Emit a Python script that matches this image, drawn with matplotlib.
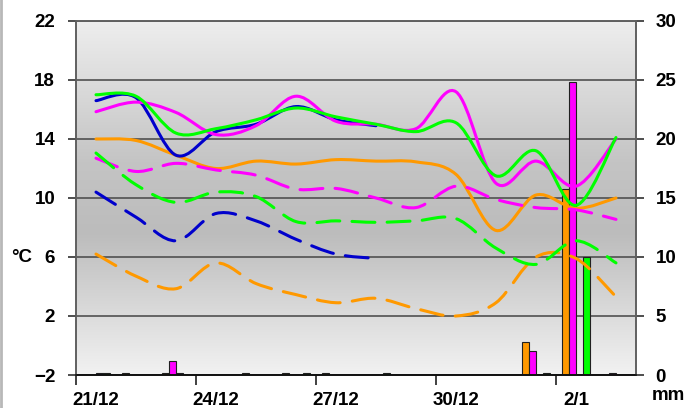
import numpy as np
import matplotlib.pyplot as plt
from matplotlib.path import Path
from matplotlib.patches import PathPatch
from matplotlib.colors import LinearSegmentedColormap

plt.rcParams['font.family'] = ['Liberation Sans', 'DejaVu Sans']
plt.rcParams['font.weight'] = 'bold'

# one value per day, 21/12 .. 3/1
days = np.arange(14) + 0.5
date_labels = ['21/12', '24/12', '27/12', '30/12', '2/1']
label_days = [0.5, 3.5, 6.5, 9.5, 12.5]

# temperatures (°C), solid = max, dashed = min
orange_max = [14.0, 13.9, 12.9, 12.0, 12.5, 12.3, 12.6, 12.5, 12.45, 11.6, 7.8, 10.2, 9.3, 10.0]
orange_min = [6.2, 4.7, 3.85, 5.6, 4.2, 3.45, 2.9, 3.2, 2.5, 2.0, 2.9, 6.0, 5.9, 3.3]
magenta_max = [15.85, 16.5, 15.8, 14.3, 14.9, 16.9, 15.2, 15.0, 14.7, 17.2, 11.0, 12.5, 10.8, 14.0]
magenta_min = [12.7, 11.8, 12.35, 11.9, 11.55, 10.6, 10.65, 10.0, 9.35, 10.8, 9.9, 9.35, 9.2, 8.55]
blue_max = [16.6, 16.8, 12.9, 14.5, 15.0, 16.2, 15.3, 14.9]
blue_min = [10.4, 8.7, 7.1, 8.95, 8.45, 7.2, 6.2, 5.9]
green_max = [17.0, 16.9, 14.4, 14.7, 15.3, 16.1, 15.5, 15.0, 14.5, 15.1, 11.5, 13.2, 9.5, 14.1]
green_min = [13.05, 10.9, 9.7, 10.4, 10.1, 8.4, 8.45, 8.35, 8.45, 8.6, 6.6, 5.5, 7.1, 5.6]

# rain (mm)
orange_rain = [0, 0.2, 0.2, 0, 0.2, 0.2, 0.2, 0, 0, 0, 0, 2.8, 15.8, 0]
magenta_rain = [0, 0, 1.2, 0, 0, 0, 0, 0, 0, 0, 0, 2.0, 24.8, 0.2]
blue_rain = [0.2, 0, 0.2, 0, 0, 0, 0, 0, 0, 0, 0, 0, 0, 0]
green_rain = [0.2, 0, 0, 0, 0, 0.2, 0, 0.2, 0, 0, 0, 0.2, 10.0, 0]

ORANGE = '#FF9900'
MAGENTA = '#FF00FF'
BLUE = '#0000CC'
GREEN = '#00FF00'


# excel-like smoothed line: bezier through the points
def smoothPath(x, y):
    pts = np.column_stack([x, y])
    n = len(pts)
    verts = [pts[0]]
    codes = [Path.MOVETO]
    for i in range(n - 1):
        p0 = pts[max(i - 1, 0)]
        p1 = pts[i]
        p2 = pts[i + 1]
        p3 = pts[min(i + 2, n - 1)]
        verts += [p1 + (p2 - p0) / 6, p2 - (p3 - p1) / 6, p2]
        codes += [Path.CURVE4] * 3
    return Path(verts, codes)


def addLine(ax, y, color, dashed=False):
    x = days[:len(y)]
    ls = (0, (7.5, 4)) if dashed else '-'
    ax.add_patch(PathPatch(smoothPath(x, y), fill=False, edgecolor=color,
                           lw=2.2, linestyle=ls, capstyle='round', zorder=3))


fig = plt.figure(figsize=(6.92, 4.08), dpi=100)
ax = fig.add_axes([76 / 692, 1 - 375 / 408, 560 / 692, 354 / 408])
axT = ax.twinx()
ax.yaxis.tick_right()
axT.yaxis.tick_left()

# background gradient
grad_cmap = LinearSegmentedColormap.from_list(
    'bg', [(0, '#f2f2f2'), (0.4, '#bcbcbc'), (0.6, '#c4c4c4'), (1, '#eeeeee')])
grad = np.linspace(0, 1, 256).reshape(-1, 1)
ax.imshow(grad, extent=[0, 1, 0, 1], transform=ax.transAxes, aspect='auto',
          cmap=grad_cmap, origin='lower', zorder=-1)

# rain bars, 4 per day
bw = 0.175
for k, (vals, col) in enumerate([(orange_rain, ORANGE), (magenta_rain, MAGENTA),
                                  (blue_rain, BLUE), (green_rain, GREEN)]):
    ax.bar(days + (k - 1.5) * bw, vals, bw, color=col, edgecolor='#202020',
           linewidth=0.8, zorder=2)

ax.set_xlim(0, 14)
ax.set_ylim(0, 30)
ax.set_yticks(np.arange(0, 31, 5))
ax.grid(axis='y', color='#505050', lw=1.2)
ax.set_axisbelow(True)

axT.set_ylim(-2, 22)
axT.set_yticks(np.arange(-2, 23, 4))

for y, col in [(orange_max, ORANGE), (blue_max, BLUE), (magenta_max, MAGENTA), (green_max, GREEN)]:
    addLine(axT, y, col)
for y, col in [(orange_min, ORANGE), (blue_min, BLUE), (magenta_min, MAGENTA), (green_min, GREEN)]:
    addLine(axT, y, col, dashed=True)

ax.set_xticks([0, 3, 6, 9, 12])
ax.set_xticklabels([])
ax.set_xticks(label_days, minor=True)
ax.set_xticklabels(date_labels, minor=True)
ax.tick_params(axis='x', which='major', direction='out', length=7, width=1.2, color='#202020')
ax.tick_params(axis='x', which='minor', length=0, pad=12, labelsize=13.5)
ax.tick_params(axis='y', direction='out', length=6, width=1.2, color='#303030', pad=8, labelsize=13.5)
axT.tick_params(axis='y', direction='out', length=6, width=1.2, color='#303030', pad=9, labelsize=13.5)

for a in (ax, axT):
    for s in ['left', 'right', 'top']:
        a.spines[s].set_color('#606060')
        a.spines[s].set_linewidth(1.2)
    a.spines['bottom'].set_color('#101010')
    a.spines['bottom'].set_linewidth(1.2)

fig.text(22 / 692, 1 - 258 / 408, '°C', ha='center', va='center', fontsize=13.5)
fig.text(652 / 692, 1 - 395 / 408, 'mm', ha='left', va='center', fontsize=13.5)

# chart border on the left
fig.add_artist(plt.Line2D([0.001, 0.001], [0, 1], color='#b8b8b8', lw=2))

fig.savefig('out.png', dpi=100)
